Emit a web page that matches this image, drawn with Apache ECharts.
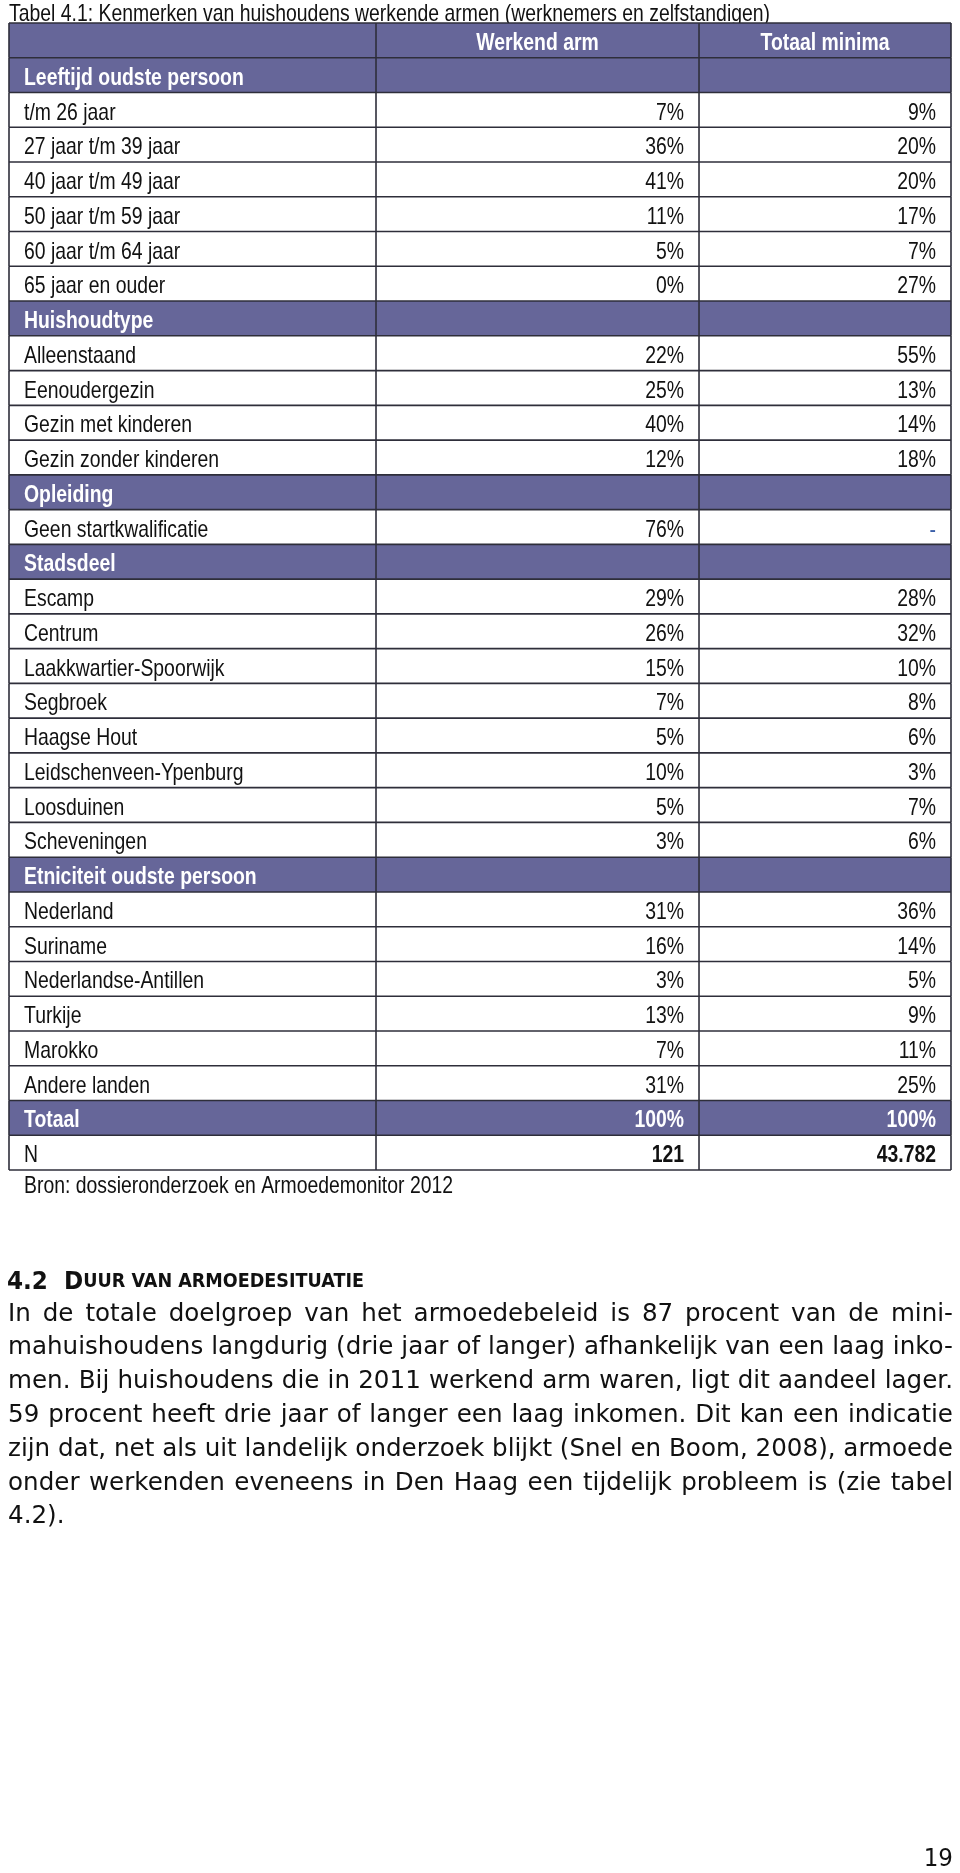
<!DOCTYPE html>
<html>
<head>
<meta charset="utf-8">
<script src="https://cdn.jsdelivr.net/npm/echarts@6/dist/echarts.min.js"></script>
<style>
html,body{margin:0;padding:0;background:#fff;}
#main{width:960px;height:1873px;}
</style>
</head>
<body>
<div id="main"></div>
<script>
// ---------- DATA ----------
const tableTitle = 'Tabel 4.1: Kenmerken van huishoudens werkende armen (werknemers en zelfstandigen)';
const columnHeaders = ['Werkend arm', 'Totaal minima'];

const ageTitle = 'Leeftijd oudste persoon';
const ageLabels = ['t/m 26 jaar', '27 jaar t/m 39 jaar', '40 jaar t/m 49 jaar', '50 jaar t/m 59 jaar', '60 jaar t/m 64 jaar', '65 jaar en ouder'];
const ageWerkend = [7, 36, 41, 11, 5, 0];
const ageMinima = [9, 20, 20, 17, 7, 27];

const hhTitle = 'Huishoudtype';
const hhLabels = ['Alleenstaand', 'Eenoudergezin', 'Gezin met kinderen', 'Gezin zonder kinderen'];
const hhWerkend = [22, 25, 40, 12];
const hhMinima = [55, 13, 14, 18];

const eduTitle = 'Opleiding';
const eduLabels = ['Geen startkwalificatie'];
const eduWerkend = [76];
const eduMinima = [null];

const distTitle = 'Stadsdeel';
const distLabels = ['Escamp', 'Centrum', 'Laakkwartier-Spoorwijk', 'Segbroek', 'Haagse Hout', 'Leidschenveen-Ypenburg', 'Loosduinen', 'Scheveningen'];
const distWerkend = [29, 26, 15, 7, 5, 10, 5, 3];
const distMinima = [28, 32, 10, 8, 6, 3, 7, 6];

const ethTitle = 'Etniciteit oudste persoon';
const ethLabels = ['Nederland', 'Suriname', 'Nederlandse-Antillen', 'Turkije', 'Marokko', 'Andere landen'];
const ethWerkend = [31, 16, 3, 13, 7, 31];
const ethMinima = [36, 14, 5, 9, 11, 25];

const totalLabel = 'Totaal';
const totalWerkend = 100;
const totalMinima = 100;
const nLabel = 'N';
const nWerkend = 121;
const nMinima = 43782;

const sourceText = 'Bron: dossieronderzoek en Armoedemonitor 2012';
const sectionNumber = '4.2';
const sectionTitle = 'DUUR VAN ARMOEDESITUATIE';
const paragraphLines = [
  'In de totale doelgroep van het armoedebeleid is 87 procent van de mini-',
  'mahuishoudens langdurig (drie jaar of langer) afhankelijk van een laag inko-',
  'men. Bij huishoudens die in 2011 werkend arm waren, ligt dit aandeel lager.',
  '59 procent heeft drie jaar of langer een laag inkomen. Dit kan een indicatie',
  'zijn dat, net als uit landelijk onderzoek blijkt (Snel en Boom, 2008), armoede',
  'onder werkenden eveneens in Den Haag een tijdelijk probleem is (zie tabel',
  '4.2).'
];
const pageNumber = '19';

// ---------- BUILD ROWS ----------
const rows = [{ kind: 'head' }];
function addSection(title, labels, a, b) {
  rows.push({ kind: 'section', label: title });
  labels.forEach((l, i) => rows.push({ kind: 'data', label: l, a: a[i], b: b[i] }));
}
addSection(ageTitle, ageLabels, ageWerkend, ageMinima);
addSection(hhTitle, hhLabels, hhWerkend, hhMinima);
addSection(eduTitle, eduLabels, eduWerkend, eduMinima);
addSection(distTitle, distLabels, distWerkend, distMinima);
addSection(ethTitle, ethLabels, ethWerkend, ethMinima);
rows.push({ kind: 'total', label: totalLabel, a: totalWerkend, b: totalMinima });
rows.push({ kind: 'n', label: nLabel, a: nWerkend, b: nMinima });

function pct(v) { return v == null ? '-' : v + '%'; }
function thousands(v) { return String(v).replace(/\B(?=(\d{3})+(?!\d))/g, '.'); }

// ---------- STYLE / LAYOUT ----------
const TFONT = '"Liberation Sans", Arial, sans-serif';
const PFONT = '"DejaVu Sans", sans-serif';
const PURPLE = '#666699';
const LINE = '#2e2e3a';
const colBounds = [0, 0.3896, 0.7325, 1];
const tFontSize = 24;

const measureCtx = document.createElement('canvas').getContext('2d');
function textWidth(s, size, weight, fam) {
  measureCtx.font = (weight || 'normal') + ' ' + size + 'px ' + (fam || PFONT);
  return measureCtx.measureText(s).width;
}
// horizontal condensing of the table font (narrow Helvetica look): title spans ~761px
const tScale = 761 / textWidth(tableTitle, tFontSize, 'normal', TFONT);

const chart = echarts.init(document.getElementById('main'), null, { renderer: 'canvas' });

function tText(text, x, y, align, bold, color) {
  return {
    type: 'text', x: x, y: y, scaleX: tScale,
    style: {
      text: text, x: 0, y: 0,
      align: align, textAlign: align, verticalAlign: 'middle', textVerticalAlign: 'middle',
      fontFamily: TFONT, fontSize: tFontSize, fontWeight: bold ? 'bold' : 'normal',
      fill: color
    }
  };
}

function renderRow(params, api) {
  const idx = api.value(0);
  const row = rows[idx];
  const c = api.coord([0, idx]);
  const h = api.size([0, 1])[1];
  const top = c[1] - h / 2;
  const xs = colBounds.map(f => api.coord([f, idx])[0]);
  const cy = top + h / 2 + 3;
  const children = [];
  const purple = row.kind === 'head' || row.kind === 'section' || row.kind === 'total';
  if (purple) {
    children.push({ type: 'rect', shape: { x: xs[0], y: top, width: xs[3] - xs[0], height: h }, style: { fill: PURPLE } });
  }
  const txt = (text, x, align, bold, color) => tText(text, x, cy, align, bold, color);
  if (row.kind === 'head') {
    children.push(txt(columnHeaders[0], (xs[1] + xs[2]) / 2, 'center', true, '#fff'));
    children.push(txt(columnHeaders[1], (xs[2] + xs[3]) / 2, 'center', true, '#fff'));
  } else if (row.kind === 'section') {
    children.push(txt(row.label, xs[0] + 15, 'left', true, '#fff'));
  } else if (row.kind === 'data') {
    children.push(txt(row.label, xs[0] + 15, 'left', false, '#111'));
    children.push(txt(pct(row.a), xs[2] - 15, 'right', false, '#111'));
    children.push(row.b == null
      ? txt('-', xs[3] - 15, 'right', false, '#3a5ea8')
      : txt(pct(row.b), xs[3] - 15, 'right', false, '#111'));
  } else if (row.kind === 'total') {
    children.push(txt(row.label, xs[0] + 15, 'left', true, '#fff'));
    children.push(txt(pct(row.a), xs[2] - 15, 'right', true, '#fff'));
    children.push(txt(pct(row.b), xs[3] - 15, 'right', true, '#fff'));
  } else if (row.kind === 'n') {
    children.push(txt(row.label, xs[0] + 15, 'left', false, '#111'));
    children.push(txt(thousands(row.a), xs[2] - 15, 'right', true, '#111'));
    children.push(txt(thousands(row.b), xs[3] - 15, 'right', true, '#111'));
  }
  const ln = (x1, y1, x2, y2) => ({ type: 'line', shape: { x1, y1, x2, y2 }, style: { stroke: LINE, lineWidth: 1.6 } });
  children.push(ln(xs[0], top, xs[3], top));
  if (idx === rows.length - 1) children.push(ln(xs[0], top + h, xs[3], top + h));
  xs.forEach(x => children.push(ln(x, top, x, top + h)));
  return { type: 'group', children: children };
}

// ---------- PARAGRAPH (justified, condensed) ----------
const pLeft = 8, pRight = 953, pTop = 1314, pStep = 33.8;
const pSize = 25;
const avail = pRight - pLeft;
let pScale = 1;
paragraphLines.slice(0, -1).forEach(l => {
  const w = textWidth(l, pSize);
  pScale = Math.min(pScale, avail / w);
});
const graphics = [];
paragraphLines.forEach((line, li) => {
  const y = pTop + li * pStep;
  const words = line.split(' ');
  const last = li === paragraphLines.length - 1;
  const ww = words.map(w => textWidth(w, pSize) * pScale);
  const sum = ww.reduce((a, b) => a + b, 0);
  const gap = last || words.length < 2 ? textWidth(' ', pSize) * pScale : (avail - sum) / (words.length - 1);
  let x = pLeft;
  words.forEach((w, i) => {
    graphics.push({
      type: 'text', x: x, y: y, scaleX: pScale,
      style: { text: w, x: 0, y: 0, fontFamily: PFONT, fontSize: pSize, fill: '#111',
        align: 'left', textAlign: 'left', verticalAlign: 'middle', textVerticalAlign: 'middle' }
    });
    x += ww[i] + gap;
  });
});

// heading (small caps)
const hBig = 25, hSmall = 19;
const hParts = [
  textWidth(sectionNumber, hBig, 'bold'),
  textWidth('  ', hBig, 'bold'),
  textWidth(sectionTitle.charAt(0), hBig, 'bold'),
  textWidth(sectionTitle.slice(1), hSmall, 'bold')
];
const hWidth = hParts.reduce((a, b) => a + b, 0);
const hScale = 357 / hWidth;
graphics.push({
  type: 'text', x: 7, y: 1282, scaleX: hScale,
  style: {
    text: '{n|' + sectionNumber + '}  {b|' + sectionTitle.charAt(0) + '}{s|' + sectionTitle.slice(1) + '}',
    x: 0, y: 0, verticalAlign: 'middle', textVerticalAlign: 'middle',
    fontFamily: PFONT, fontSize: hBig, fontWeight: 'bold',
    rich: {
      n: { fontFamily: PFONT, fontSize: hBig, fontWeight: 'bold', fill: '#111' },
      b: { fontFamily: PFONT, fontSize: hBig, fontWeight: 'bold', fill: '#111' },
      s: { fontFamily: PFONT, fontSize: hSmall, fontWeight: 'bold', fill: '#111' }
    }
  }
});
// table title
graphics.push(tText(tableTitle, 9, 14, 'left', false, '#111'));
// source
graphics.push(tText(sourceText, 24, 1186, 'left', false, '#111'));
// page number
graphics.push({
  type: 'text', x: 953, y: 1859, scaleX: 0.92,
  style: { text: pageNumber, x: 0, y: 0, fontFamily: PFONT, fontSize: 25, fill: '#111',
    align: 'right', textAlign: 'right', verticalAlign: 'middle', textVerticalAlign: 'middle' }
});

chart.setOption({
  backgroundColor: '#fff',
  animation: false,
  grid: { left: 9, top: 23, width: 942, height: 1147 },
  xAxis: { type: 'value', min: 0, max: 1, show: false },
  yAxis: { type: 'category', inverse: true, show: false, data: rows.map((r, i) => String(i)) },
  series: [{
    type: 'custom',
    renderItem: renderRow,
    data: rows.map((r, i) => [i]),
    encode: { y: 0 },
    silent: true
  }],
  graphic: graphics
});
</script>
</body>
</html>
